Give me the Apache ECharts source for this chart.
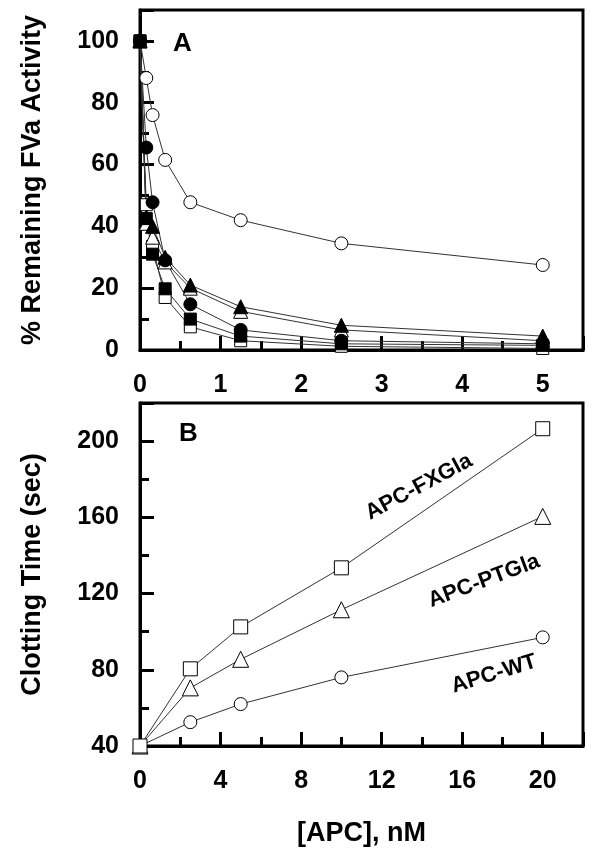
<!DOCTYPE html>
<html><head><meta charset="utf-8">
<script src="https://cdn.jsdelivr.net/npm/echarts@6/dist/echarts.min.js"></script>
<style>html,body{margin:0;padding:0;background:#fff}#c{width:605px;height:854px}</style>
</head><body><div id="c"></div>
<script>
// Panel A: APC concentration (nM) vs % remaining FVa activity
var xA = [0, 0.078, 0.156, 0.3125, 0.625, 1.25, 2.5, 5];
var openCircleA   = [100, 88, 76, 61.5, 47.8, 42, 34.5, 27.5];
var openSquareA   = [100, 47, 33.5, 17, 7.5, 3, 1.2, 0.5];
var openTriangleA = [100, 41, 36.5, 28.5, 20, 12.5, 6.5, 3];
var filledSquareA = [100, 42.5, 31, 19.8, 10, 4.5, 2, 1.5];
var filledCircleA = [100, 65.5, 47.8, 29, 14.8, 6.5, 3, 2];
var filledTriangleA = [100, 43, 40, 30, 21, 14, 8, 4.5];

// Panel B: APC concentration (nM) vs clotting time (sec)
var xB = [0, 2.5, 5, 10, 20];
var fxglaB = [40, 80.5, 102.5, 133.5, 206.5];
var ptglaB = [40, 70.5, 85.5, 111.5, 160.5];
var wtB    = [40, 52.5, 62, 76, 97];
var labelsB = ['APC-FXGla', 'APC-PTGla', 'APC-WT'];

var FONT = '"Liberation Sans", Arial, sans-serif';
function pairs(xs, ys){ return xs.map(function(x,i){ return [x, ys[i]]; }); }
function ser(idx, xs, ys, sym, size, filled){
  return {
    type:'line', xAxisIndex:idx, yAxisIndex:idx, data:pairs(xs, ys),
    symbol:sym, symbolSize:size, clip:false, animation:false,
    lineStyle:{color:'#333', width:1},
    itemStyle:{color: filled ? '#000' : '#fff', borderColor:'#000', borderWidth:1, opacity:1}
  };
}
function axisCommon(margin){
  return {
    axisLine:{show:true, onZero:false, lineStyle:{color:'#000', width:3}},
    axisTick:{show:true, inside:true, length:14, lineStyle:{color:'#000', width:3}},
    minorTick:{show:true, splitNumber:2, length:9, lineStyle:{color:'#000', width:3}},
    splitLine:{show:false},
    axisLabel:{color:'#000', fontFamily:FONT, fontWeight:'bold', fontSize:25, margin:margin, showMaxLabel:false},
    nameTextStyle:{color:'#000', fontFamily:FONT, fontWeight:'bold', fontSize:27}
  };
}
function mk(margin, o){ return Object.assign(axisCommon(margin), o); }

var chart = echarts.init(document.getElementById('c'));
chart.setOption({
  backgroundColor:'#fff',
  grid:[
    {left:140, top:10, width:443, height:340, show:true, borderColor:'#000', borderWidth:3},
    {left:140, top:403, width:443, height:343, show:true, borderColor:'#000', borderWidth:3}
  ],
  xAxis:[
    mk(23, {type:'value', gridIndex:0, min:0, max:5.5, interval:1}),
    mk(23, {type:'value', gridIndex:1, min:0, max:22, interval:4, name:'[APC], nM', nameLocation:'middle', nameGap:74})
  ],
  yAxis:[
    mk(21, {type:'value', gridIndex:0, min:0, max:110, interval:20, name:'% Remaining FVa Activity', nameLocation:'middle', nameGap:94}),
    mk(21, {type:'value', gridIndex:1, min:40, max:220, interval:40, name:'Clotting Time (sec)', nameLocation:'middle', nameGap:94})
  ],
  series:[
    ser(0, xA, openCircleA, 'circle', 13, false),
    ser(0, xA, openSquareA, 'rect', 12, false),
    ser(0, xA, openTriangleA, 'triangle', 14, false),
    ser(0, xA, filledSquareA, 'rect', 12, true),
    ser(0, xA, filledCircleA, 'circle', 13, true),
    ser(0, xA, filledTriangleA, 'triangle', 14, true),
    ser(1, xB, wtB, 'circle', 13, false),
    ser(1, xB, ptglaB, 'triangle', 16, false),
    ser(1, xB, fxglaB, 'rect', 14, false)
  ],
  graphic:[
    {type:'text', left:173, top:31, style:{text:'A', font:'bold 26px '+FONT, fill:'#000'}},
    {type:'text', left:179, top:421, style:{text:'B', font:'bold 26px '+FONT, fill:'#000'}},
    {type:'text', x:419, y:487, rotation:28*Math.PI/180, style:{text:labelsB[0], font:'bold 22px '+FONT, fill:'#000', align:'center', verticalAlign:'middle'}},
    {type:'text', x:484, y:581, rotation:20.5*Math.PI/180, style:{text:labelsB[1], font:'bold 22px '+FONT, fill:'#000', align:'center', verticalAlign:'middle'}},
    {type:'text', x:494, y:674, rotation:17*Math.PI/180, style:{text:labelsB[2], font:'bold 22px '+FONT, fill:'#000', align:'center', verticalAlign:'middle'}}
  ]
});
</script></body></html>
